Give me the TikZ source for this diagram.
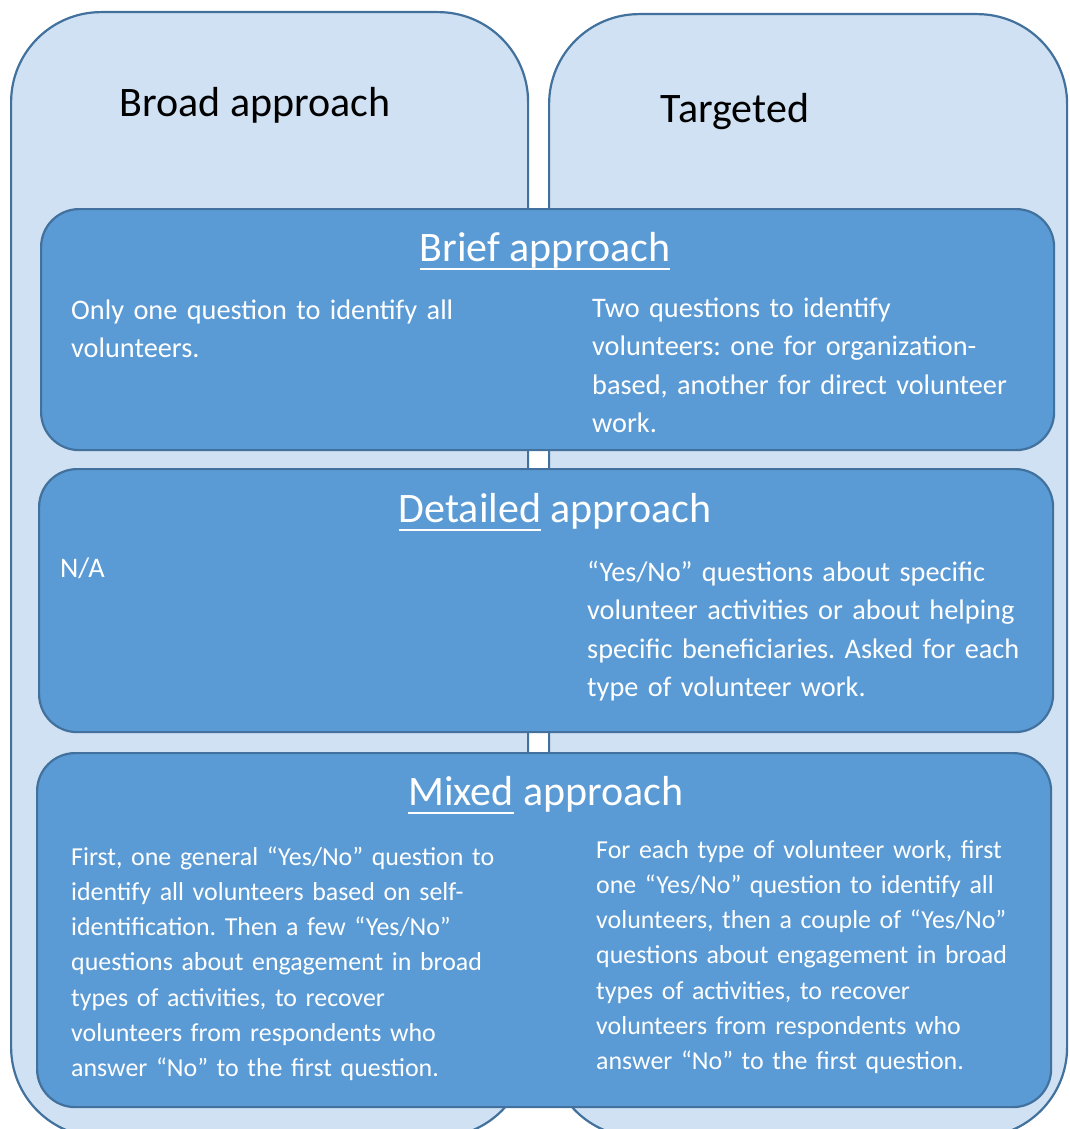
\documentclass[tikz,border=0pt]{standalone}
\usepackage{fontspec}
\setmainfont{Carlito}
\usetikzlibrary{positioning}

\definecolor{paleblue}{HTML}{CFE1F2}
\definecolor{midblue}{HTML}{5B9BD5}
\definecolor{edgeblue}{HTML}{41719C}

% underline that cuts through descenders, as in the source
\newcommand{\undl}[1]{\setbox0\hbox{#1}\rlap{\rule[-9.3pt]{\wd0}{2.4pt}}\box0\relax}
\frenchspacing

\begin{document}
\begin{tikzpicture}[
        x=1pt, y=-1pt,
        outerbox/.style={draw=edgeblue, fill=paleblue, line width=2.2pt, rounded corners=90pt, anchor=north west, inner sep=0pt},
        innerbox/.style={draw=edgeblue, fill=midblue, line width=2.2pt, rounded corners=38pt, anchor=north west, inner sep=0pt},
        title/.style={anchor=base, inner sep=0pt, font=\fontsize{42}{50}\selectfont},
        heading/.style={anchor=base, inner sep=0pt, text=white, font=\fontsize{42}{50}\selectfont},
        body/.style={anchor=base west, inner sep=0pt, text=white, text width=470pt, align=left, font=\fontsize{28.3}{38.5}\selectfont},
        smallbody/.style={body, font=\fontsize{25.9}{35.3}\selectfont}
    ]
        \path[use as bounding box, clip] (0,0) rectangle (1069,1129);

        % the two columns
        \node[outerbox, minimum width=517pt, minimum height=1125pt] (broad) at (10,11) {};
        \node[outerbox, minimum width=518pt, minimum height=1123pt] (targeted) at (548,13) {};
        \node[title] (broadlbl) at (255,117) {Broad approach};
        \node[title] (targetedlbl) at (735,122) {Targeted};

        % the three rows
        \node[innerbox, minimum width=1013pt, minimum height=241pt] (brief) at (40,208) {};
        \node[innerbox, minimum width=1014pt, minimum height=263pt] (detailed) at (38,468) {};
        \node[innerbox, minimum width=1014pt, minimum height=354pt] (mixed) at (36,752) {};

        \node[heading] (brieflbl) at (545,261) {\undl{Brief approach}};
        \node[heading] (detailedlbl) at (555,522) {\undl{Detailed} approach};
        \node[heading] (mixedlbl) at (546,805) {\undl{Mixed} approach};

        \node[body] (briefbroad) at (71,319) {Only one question to identify all\\volunteers.};
        \node[body] (brieftarget) at (592,317) {Two questions to identify\\volunteers: one for organization-\\based, another for direct volunteer\\work.};

        \node[body] (detailedbroad) at (60,577) {N/A};
        \node[body] (detailedtarget) at (587,581) {“Yes/No” questions about specific\\volunteer activities or about helping\\specific beneficiaries. Asked for each\\type of volunteer work.};

        \node[smallbody] (mixedbroad) at (71,865) {First, one general “Yes/No” question to\\identify all volunteers based on self-\\identification. Then a few “Yes/No”\\questions about engagement in broad\\types of activities, to recover\\volunteers from respondents who\\answer “No” to the first question.};
        \node[smallbody] (mixedtarget) at (596,858) {For each type of volunteer work, first\\one “Yes/No” question to identify all\\volunteers, then a couple of “Yes/No”\\questions about engagement in broad\\types of activities, to recover\\volunteers from respondents who\\answer “No” to the first question.};
    \end{tikzpicture}
\end{document}
